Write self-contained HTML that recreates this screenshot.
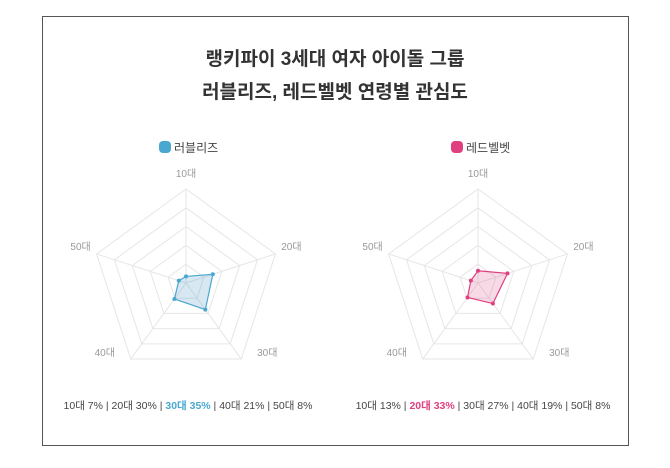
<!DOCTYPE html>
<html><head><meta charset="utf-8"><style>
body{margin:0;width:670px;height:463px;background:#fff;font-family:"Liberation Sans","Noto Sans CJK KR",sans-serif;overflow:hidden}
</style></head><body>
<svg width="670" height="463" id="svg">
<rect x="42.5" y="16.5" width="586" height="429" fill="none" stroke="#555" stroke-width="1"/>
<text x="335" y="65" text-anchor="middle" font-size="19" font-weight="bold" fill="#333">랭키파이 3세대 여자 아이돌 그룹</text>
<text x="335" y="98" text-anchor="middle" font-size="19" font-weight="bold" fill="#333">러블리즈, 레드벨벳 연령별 관심도</text>
</svg>
<script>
const categories=["10대","20대","30대","40대","50대"];
const lovelyz=[7,30,35,21,8];
const redvelvet=[13,33,27,19,8];
const groups=["러블리즈","레드벨벳"];
const maxVal=100;
const svg=document.getElementById('svg');
const NS='http://www.w3.org/2000/svg';
function mk(t,a,p){const e=document.createElementNS(NS,t);for(const k in a)e.setAttribute(k,a[k]);(p||svg).appendChild(e);return e;}
const R=94;
const labOff=[[0,-12],[16,-4],[26,-3],[-26,-3],[-16,-4]];
function pt(cx,cy,i,r){const a=-Math.PI/2+i*2*Math.PI/5;return[cx+r*Math.cos(a),cy+r*Math.sin(a)];}
function radar(cx,cy,vals,color,fill,name,hi,summaryX){
  const g=mk('g',{});
  
  
  for(let k=1;k<=5;k++){
    const ps=categories.map((c,i)=>pt(cx,cy,i,R*k/5).join(',')).join(' ');
    const ring=mk('polygon',{points:ps,fill:'none',stroke:'#e6e6e6','stroke-width':1},g);
    
    
  }
  categories.forEach((c,i)=>{
    const [x,y]=pt(cx,cy,i,R);
    const l=mk('line',{x1:cx,y1:cy,x2:x,y2:y,stroke:'#e6e6e6'},g);
    
    
    const t=mk('text',{x:x+labOff[i][0],y:y+labOff[i][1],'text-anchor':'middle','font-size':10,fill:'#999'},g);
    t.textContent=c;
    
    
  });
  const ps=vals.map((v,i)=>pt(cx,cy,i,R*v/maxVal));
  const poly=mk('polygon',{points:ps.map(p=>p.join(',')).join(' '),fill:fill,stroke:color,'stroke-width':1.2},g);
  
  
  ps.forEach(p=>{
    const c=mk('circle',{cx:p[0],cy:p[1],r:2,fill:color},g);
    
    
  });
  const lr=mk('rect',{x:cx-27,y:141,width:12,height:12,rx:4,fill:color});
  
  
  const lt=mk('text',{x:cx-12,y:152,'font-size':12,fill:'#444'});
  lt.textContent=name;
  
  
  const st=mk('text',{x:summaryX,y:409,'text-anchor':'middle','font-size':10.5,fill:'#444'});
  
  
  categories.forEach((c,i)=>{
    if(i>0){const s=mk('tspan',{fill:'#444'},st);s.textContent=' | ';}
    const s=mk('tspan',{},st);
    s.textContent=c+' '+vals[i]+'%';
    if(i===hi){s.setAttribute('fill',color);s.setAttribute('font-weight','bold');}
  });
}
radar(186,283,lovelyz,'#4aa8d0','rgba(74,150,200,0.22)',groups[0],2,188);
radar(478,283,redvelvet,'#e0407f','rgba(224,80,140,0.22)',groups[1],1,483);
</script>
</body></html>
